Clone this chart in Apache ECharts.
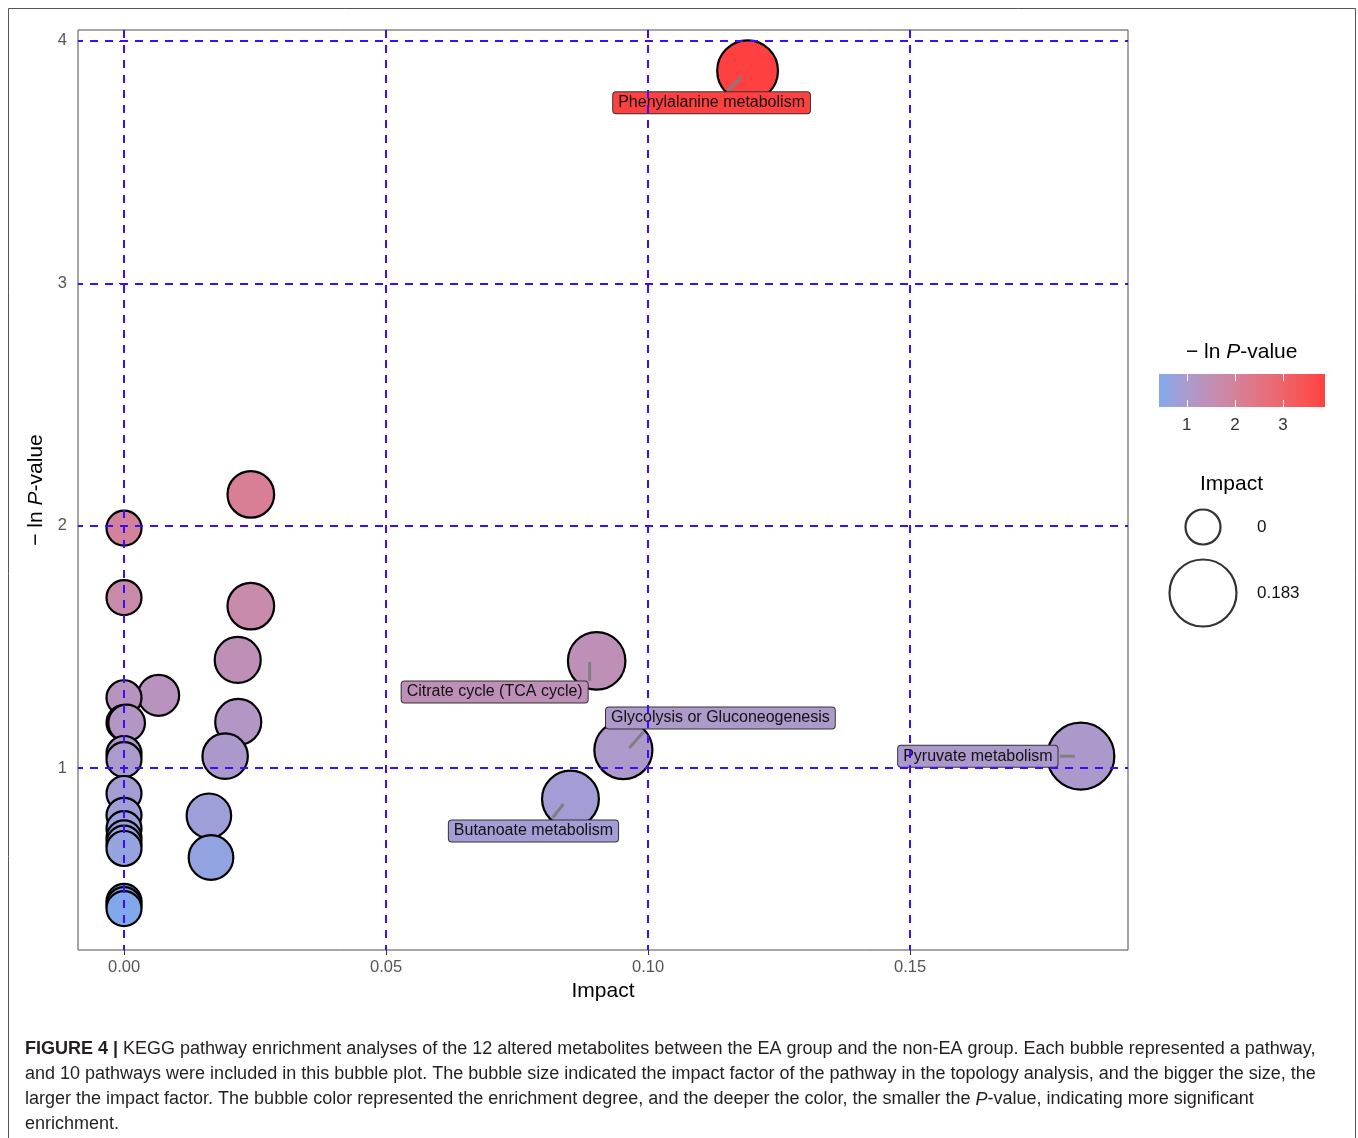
<!DOCTYPE html>
<html>
<head>
<meta charset="utf-8">
<title>KEGG pathway bubble plot</title>
<script src="https://cdn.jsdelivr.net/npm/echarts@6.0.0/dist/echarts.min.js"></script>
<style>
  html, body { margin: 0; padding: 0; background: #fff; }
  #chart { width: 1358px; height: 1138px; }
</style>
</head>
<body>
<div id="chart"></div>
<script>
// pathway impact (x) and -ln P (y)
const impact = [0.119, 0.0242, 0, 0, 0.0242, 0.0902, 0.0217, 0.0066, 0, 0.0218, 0, 0.0005, 0.0953, 0,
  0.0193, 0.1826, 0, 0, 0.0852, 0, 0.0162, 0, 0, 0, 0, 0.0166, 0, 0, 0]
const negLnP = [3.877, 2.129, 1.99, 1.703, 1.668, 1.442, 1.446, 1.30, 1.29, 1.19, 1.187, 1.186, 1.074, 1.06,
  1.049, 1.049, 1.035, 0.895, 0.872, 0.805, 0.803, 0.75, 0.712, 0.69, 0.668, 0.631, 0.45, 0.436, 0.42]
const pathway = ['Phenylalanine metabolism', '', '', '', '', 'Citrate cycle (TCA cycle)', '', '', '', '', '', '',
  'Glycolysis or Gluconeogenesis', '', '', 'Pyruvate metabolism', '', '', 'Butanoate metabolism',
  '', '', '', '', '', '', '', '', '', '']

const xTicks = [0, 0.05, 0.10, 0.15]
const yTicks = [1, 2, 3, 4]
const colorTicks = [1, 2, 3]
const sizeLegend = [0, 0.183]

// label box / segment offsets in pixels from the bubble centre
const labelLayout = {
  'Phenylalanine metabolism': { box: [-36, 32], seg: [[-6, 6], [-20, 20]] },
  'Citrate cycle (TCA cycle)': { box: [-102, 31], seg: [[-7, 1], [-7, 20]] },
  'Glycolysis or Gluconeogenesis': { box: [97, -32], seg: [[6, -2], [20, -18]] },
  'Butanoate metabolism': { box: [-37, 32], seg: [[-7, 5], [-18, 19]] },
  'Pyruvate metabolism': { box: [-103, 0], seg: [[-6, 0], [-21, 0]] }
}

const FONT = '"Liberation Sans", Arial, sans-serif'
const GRID_BLUE = '#3d0cff'
const LOW = '#82a8ec'
const HIGH = '#ff4040'

const yMin = Math.min(...negLnP)
const yMax = Math.max(...negLnP)
const impactMax = 0.183

// ggplot2 style area scaling of the bubble radius
const bubbleSize = (v) => 2 * (17.5 + 16 * Math.sqrt(v / impactMax))

// Lab interpolation so the gradient looks like ggplot's
const hexToRgb = (h) => [1, 3, 5].map(i => parseInt(h.substr(i, 2), 16))
const toLin = (c) => { c /= 255; return c <= 0.04045 ? c / 12.92 : Math.pow((c + 0.055) / 1.055, 2.4) }
const fromLin = (c) => { const v = c <= 0.0031308 ? 12.92 * c : 1.055 * Math.pow(c, 1 / 2.4) - 0.055; return Math.max(0, Math.min(255, Math.round(v * 255))) }
const rgbToLab = (rgb) => {
  const [r, g, b] = rgb.map(toLin)
  const x = (r * 0.4124 + g * 0.3576 + b * 0.1805) / 0.95047
  const y = (r * 0.2126 + g * 0.7152 + b * 0.0722)
  const z = (r * 0.0193 + g * 0.1192 + b * 0.9505) / 1.08883
  const f = (t) => t > 0.008856 ? Math.cbrt(t) : 7.787 * t + 16 / 116
  return [116 * f(y) - 16, 500 * (f(x) - f(y)), 200 * (f(y) - f(z))]
}
const labToHex = (lab) => {
  const fy = (lab[0] + 16) / 116
  const fx = fy + lab[1] / 500
  const fz = fy - lab[2] / 200
  const inv = (t) => t * t * t > 0.008856 ? t * t * t : (t - 16 / 116) / 7.787
  const x = inv(fx) * 0.95047, y = inv(fy), z = inv(fz) * 1.08883
  const r = x * 3.2406 + y * -1.5372 + z * -0.4986
  const g = x * -0.9689 + y * 1.8758 + z * 0.0415
  const b = x * 0.0557 + y * -0.2040 + z * 1.0570
  return '#' + [r, g, b].map(fromLin).map(v => v.toString(16).padStart(2, '0')).join('')
}
const labLow = rgbToLab(hexToRgb(LOW))
const labHigh = rgbToLab(hexToRgb(HIGH))
const N_STOPS = 16
const gradColors = []
for (let i = 0; i < N_STOPS; i++) {
  const t = i / (N_STOPS - 1)
  gradColors.push(labToHex(labLow.map((v, k) => v + (labHigh[k] - v) * t)))
}

const labelled = pathway.map((n, i) => n ? i : -1).filter(i => i >= 0)

const chart = echarts.init(document.getElementById('chart'))

chart.setOption({
  animation: false,
  backgroundColor: '#fff',
  textStyle: { fontFamily: FONT },
  grid: [
    { left: 78, top: 30, width: 1050, height: 920, show: true, borderColor: '#4d4d4d', borderWidth: 1, backgroundColor: 'transparent' },
    { left: 1159, top: 374, width: 166, height: 33 },
    { left: 1153, top: 494, width: 100, height: 132 }
  ],
  xAxis: [
    {
      type: 'value', gridIndex: 0, min: -0.00878, max: 0.1916,
      name: 'Impact', nameLocation: 'middle', nameGap: 30,
      nameTextStyle: { fontSize: 21, color: '#000', fontFamily: FONT },
      axisLine: { show: false },
      axisTick: { show: true, length: 5, customValues: xTicks, lineStyle: { color: '#333' } },
      axisLabel: { customValues: xTicks, fontSize: 16.5, color: '#555', margin: 9, formatter: (v) => v.toFixed(2) },
      splitLine: { show: false }
    },
    {
      type: 'value', gridIndex: 1, min: yMin, max: yMax, position: 'bottom', z: 5,
      axisLine: { show: false },
      axisTick: { show: true, inside: true, length: 7, customValues: colorTicks, lineStyle: { color: '#fff', width: 1 } },
      axisLabel: { customValues: colorTicks, fontSize: 17, color: '#333', margin: 10 },
      splitLine: { show: false }
    },
    {
      type: 'value', gridIndex: 1, min: yMin, max: yMax, position: 'top', z: 5,
      axisLine: { show: false },
      axisTick: { show: true, inside: true, length: 7, customValues: colorTicks, lineStyle: { color: '#fff', width: 1 } },
      axisLabel: { show: false },
      splitLine: { show: false }
    },
    { type: 'value', gridIndex: 2, min: 0, max: 1, show: false }
  ],
  yAxis: [
    {
      type: 'value', gridIndex: 0, min: 0.2492, max: 4.045,
      name: '{t|\u2212 ln }{i|P}{t|-value}', nameLocation: 'middle', nameGap: 28,
      nameTextStyle: {
        fontFamily: FONT,
        rich: {
          t: { fontSize: 21, color: '#000', fontFamily: FONT },
          i: { fontSize: 21, color: '#000', fontStyle: 'italic', fontFamily: FONT }
        }
      },
      axisLine: { show: false },
      axisTick: { show: true, length: 5, customValues: yTicks, lineStyle: { color: '#333' } },
      axisLabel: { customValues: yTicks, fontSize: 16.5, color: '#555', margin: 11 },
      splitLine: { show: false }
    },
    { type: 'value', gridIndex: 1, min: 0, max: 1, show: false },
    {
      type: 'category', gridIndex: 2, inverse: true, position: 'right',
      data: sizeLegend.map(String),
      axisLine: { show: false },
      axisTick: { show: false },
      axisLabel: { fontSize: 17, color: '#111', margin: 4, align: 'left' }
    }
  ],
  visualMap: {
    type: 'continuous', show: false, dimension: 1, seriesIndex: [1, 2],
    min: yMin, max: yMax,
    inRange: { color: gradColors }
  },
  series: [
    {
      // dashed grid lines
      type: 'scatter', xAxisIndex: 0, yAxisIndex: 0, z: 1, data: [], silent: true,
      markLine: {
        silent: true, symbol: ['none', 'none'], label: { show: false },
        lineStyle: { color: GRID_BLUE, width: 2, type: [8, 7], dashOffset: 3 },
        data: xTicks.map(v => ({ xAxis: v })).concat(yTicks.map(v => ({ yAxis: v })))
      }
    },
    {
      type: 'scatter', xAxisIndex: 0, yAxisIndex: 0, z: 2,
      data: impact.map((v, i) => [v, negLnP[i]]),
      symbolSize: (val) => bubbleSize(val[0]),
      itemStyle: { borderColor: '#000', borderWidth: 2.2, opacity: 1 }
    },
    {
      type: 'custom', xAxisIndex: 0, yAxisIndex: 0, z: 3,
      data: labelled.map(i => [impact[i], negLnP[i]]),
      renderItem: (params, api) => {
        const p = api.coord([api.value(0), api.value(1)])
        const name = pathway[labelled[params.dataIndex]]
        const lay = labelLayout[name]
        const color = api.visual('color')
        return {
          type: 'group',
          children: [
            {
              type: 'line',
              shape: { x1: p[0] + lay.seg[0][0], y1: p[1] + lay.seg[0][1], x2: p[0] + lay.seg[1][0], y2: p[1] + lay.seg[1][1] },
              style: { stroke: '#7f7f7f', lineWidth: 3 }
            },
            {
              type: 'text',
              style: {
                text: name, x: p[0] + lay.box[0], y: p[1] + lay.box[1],
                align: 'center', verticalAlign: 'middle',
                font: '16px ' + FONT, fill: '#111',
                backgroundColor: color, borderColor: '#333', borderWidth: 1, borderRadius: 3,
                padding: [3, 5, 2, 5]
              }
            }
          ]
        }
      }
    },
    {
      // colour bar
      type: 'custom', xAxisIndex: 1, yAxisIndex: 1, z: 2,
      data: [[yMin, 0, yMax, 1]],
      renderItem: (params, api) => {
        const a = api.coord([api.value(0), api.value(1)])
        const b = api.coord([api.value(2), api.value(3)])
        return {
          type: 'rect',
          shape: { x: a[0], y: b[1], width: b[0] - a[0], height: a[1] - b[1] },
          style: {
            fill: new echarts.graphic.LinearGradient(0, 0, 1, 0,
              gradColors.map((c, i) => ({ offset: i / (gradColors.length - 1), color: c })))
          }
        }
      }
    },
    {
      // size legend
      type: 'scatter', xAxisIndex: 3, yAxisIndex: 2, z: 2,
      data: sizeLegend.map((v, i) => [0.5, i]),
      symbolSize: (val, params) => bubbleSize(sizeLegend[params.dataIndex]),
      itemStyle: { color: '#fff', borderColor: '#000', borderWidth: 2.2 }
    }
  ],
  graphic: [
    {
      type: 'rect', silent: true, z: 0,
      shape: { x: 8.5, y: 8.5, width: 1347, height: 1160 },
      style: { fill: 'none', stroke: '#555', lineWidth: 1 }
    },
    {
      type: 'text', left: 1186, top: 342,
      style: {
        text: '{t|\u2212 ln }{i|P}{t|-value}',
        rich: {
          t: { fontSize: 21, fill: '#000', fontFamily: FONT },
          i: { fontSize: 21, fill: '#000', fontStyle: 'italic', fontFamily: FONT }
        }
      }
    },
    {
      type: 'text', left: 1200, top: 474,
      style: { text: 'Impact', fontSize: 21, fill: '#000', fontFamily: FONT }
    },
    {
      type: 'text', left: 25, top: 1037,
      style: {
        text: '{b|FIGURE 4 |} KEGG pathway enrichment analyses of the 12 altered metabolites between the EA group and the non-EA group. Each bubble represented a pathway,\n' +
          'and 10 pathways were included in this bubble plot. The bubble size indicated the impact factor of the pathway in the topology analysis, and the bigger the size, the\n' +
          'larger the impact factor. The bubble color represented the enrichment degree, and the deeper the color, the smaller the {i|P}-value, indicating more significant\n' +
          'enrichment.',
        fontSize: 18, fill: '#231f20', fontFamily: FONT, lineHeight: 25,
        rich: {
          b: { fontSize: 18, fontWeight: 'bold', fill: '#231f20', fontFamily: FONT, lineHeight: 25 },
          i: { fontSize: 18, fontStyle: 'italic', fill: '#231f20', fontFamily: FONT, lineHeight: 25 }
        }
      }
    }
  ]
})

window.addEventListener('resize', () => chart.resize())
</script>
</body>
</html>
